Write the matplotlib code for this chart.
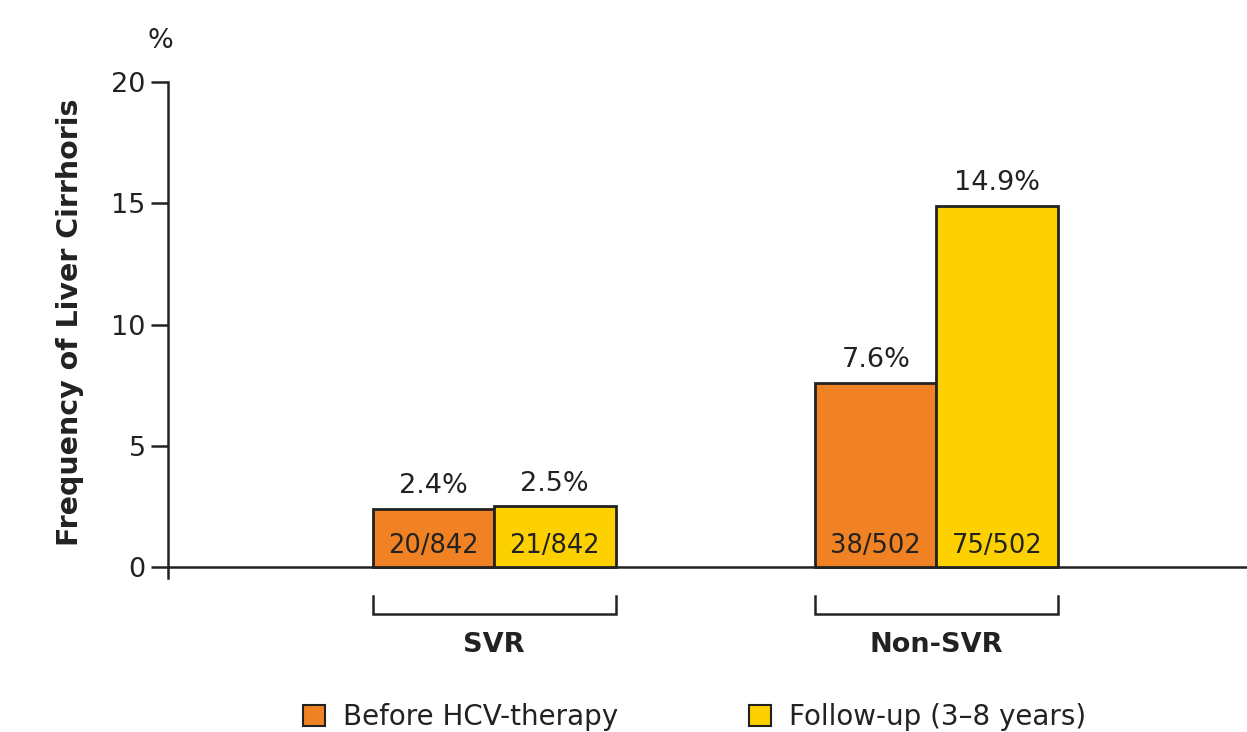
import matplotlib
matplotlib.use("Agg")
import matplotlib.pyplot as plt
from matplotlib.patches import Patch
import numpy as np

# ---------------------------------------------------------------------------
# Data
# ---------------------------------------------------------------------------
groups = ["SVR", "Non-SVR"]
series = ["Before HCV-therapy", "Follow-up (3\u20138 years)"]
before_pct = [2.4, 7.6]
followup_pct = [2.5, 14.9]
before_counts = ["20/842", "38/502"]
followup_counts = ["21/842", "75/502"]
yticks = [0, 5, 10, 15, 20]

C_BEFORE, C_FOLLOW, C_EDGE, C_TEXT = "#F08224", "#FDD000", "#222222", "#222222"
FS = 19.5

plt.rcParams["font.family"] = ["DejaVu Sans"]

fig = plt.figure(figsize=(12.47, 7.32), dpi=100)
# axis runs from -0.45 (spine overhang) to 20
ax = fig.add_axes([168 / 1247, 154 / 732, 1 - 168 / 1247, 496 / 732])

x = np.arange(len(groups))
w = 0.2746

bars_b = ax.bar(x - w / 2, before_pct, w, color=C_BEFORE, edgecolor=C_EDGE, lw=2.0, zorder=3)
bars_f = ax.bar(x + w / 2, followup_pct, w, color=C_FOLLOW, edgecolor=C_EDGE, lw=2.0, zorder=3)

# percentage on top, counts inside the bar
for bars, vals, cnts in ((bars_b, before_pct, before_counts), (bars_f, followup_pct, followup_counts)):
    for b, v, c in zip(bars, vals, cnts):
        cx = b.get_x() + b.get_width() / 2
        ax.text(cx, v + 0.4, f"{v}%", ha="center", va="bottom", fontsize=FS, color=C_TEXT)
        ax.text(cx, 0.85, c, ha="center", va="center", fontsize=FS - 1, color=C_TEXT, zorder=4)

ax.set_xlim(-0.737, 1.702)
ax.set_ylim(-0.45, 20)
ax.set_yticks(yticks)
ax.tick_params(axis="y", direction="out", length=12, width=1.8, labelsize=FS, colors=C_TEXT, pad=4)
ax.tick_params(axis="x", length=0, labelbottom=False)

for s in ("top", "right"):
    ax.spines[s].set_visible(False)
for s in ("left", "bottom"):
    ax.spines[s].set_linewidth(1.8)
    ax.spines[s].set_color(C_TEXT)
ax.spines["bottom"].set_position(("data", 0))

ax.text(-0.755, 21.15, "%", ha="center", va="bottom", fontsize=FS, color=C_TEXT)

ax.set_ylabel("Frequency of Liver Cirrhoris", fontsize=20.5, fontweight="bold",
              color=C_TEXT)
ax.yaxis.set_label_coords(-0.078, 0.516)

# group brackets and labels below the axis
for xi, g in zip(x, groups):
    lo, hi = xi - w, xi + w
    ax.plot([lo, lo, hi, hi], [-1.2, -1.94, -1.94, -1.2], color=C_TEXT, lw=1.8,
            clip_on=False, solid_joinstyle="miter")
    ax.text(xi, -3.2, g, ha="center", va="center", fontsize=FS, fontweight="bold",
            color=C_TEXT)

handles = [Patch(facecolor=C_BEFORE, edgecolor=C_EDGE, lw=1.5, label=series[0]),
           Patch(facecolor=C_FOLLOW, edgecolor=C_EDGE, lw=1.5, label=series[1])]
fig.legend(handles=handles, loc="center", bbox_to_anchor=(0.557, 0.02), ncol=2,
           frameon=False, fontsize=20, handlelength=0.8, handleheight=0.8,
           handletextpad=0.65, columnspacing=4.7, labelcolor=C_TEXT)

fig.savefig("out.png", dpi=100)
